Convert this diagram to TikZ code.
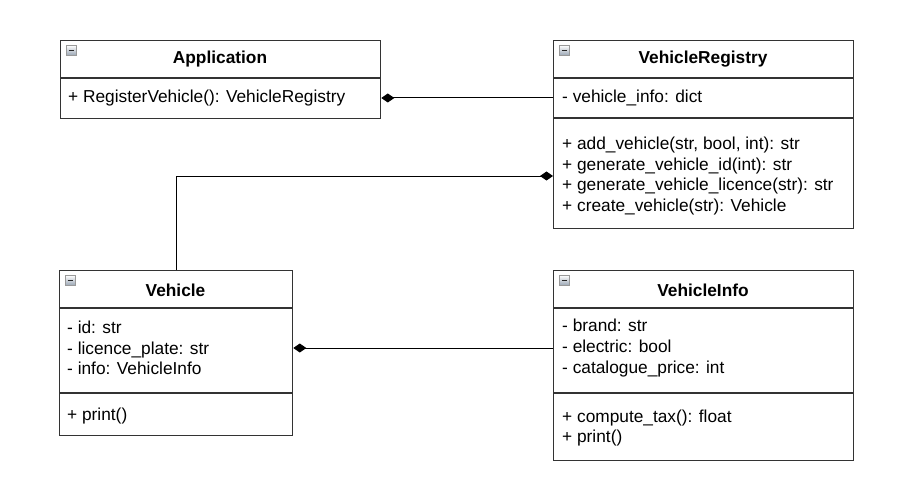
\documentclass[tikz,border=0pt]{standalone}
\usepackage{fontspec}
\setmainfont{Liberation Sans}
\usetikzlibrary{arrows.meta,calc}
\definecolor{boxgray}{HTML}{333333}
\definecolor{iconbot}{HTML}{9AA6B4}
\begin{document}
\begin{tikzpicture}[x=1pt,y=-1pt,
  classbox/.style={draw=boxgray, line width=1.3pt, fill=white, anchor=north west, inner sep=0pt},
  title/.style={font=\fontsize{17.3}{20.7}\selectfont\bfseries, inner sep=0pt},
  member/.style={font=\fontsize{17.3}{20.7}\selectfont, align=left, anchor=west, inner sep=0pt},
  divider/.style={draw=boxgray, line width=1.3pt},
  comp/.style={draw=black, line width=1pt, -{Diamond[length=13pt,width=9pt]}},
  icon/.style={anchor=north west, minimum size=10pt, inner sep=0pt, draw=gray!80, line width=0.6pt,
    top color=white, bottom color=iconbot,
    path picture={\draw[line width=1.4pt, black!85] ([xshift=2.2pt]path picture bounding box.west) -- ([xshift=-2.2pt]path picture bounding box.east);}},
]
\useasboundingbox (0,0) rectangle (901,497);

% Application
\node[classbox, minimum width=320pt, minimum height=78pt] (app) at (60,40) {};
\draw[divider] (60,78) -- (380,78);
\node[icon] (appicon) at (66,45) {};
\node[title] (apptitle) at (220,59) {Application};
\node[member] (appattr) at (68,98) {+ RegisterVehicle(): VehicleRegistry};

% VehicleRegistry
\node[classbox, minimum width=300pt, minimum height=188pt] (vreg) at (553,40) {};
\draw[divider] (553,78) -- (853,78);
\draw[divider] (553,118) -- (853,118);
\node[icon] (vregicon) at (559,45) {};
\node[title] (vregtitle) at (703,59) {VehicleRegistry};
\node[member] (vregattr) at (562,98) {- vehicle\_info: dict};
\node[member] (vregm) at (562,176) {+ add\_vehicle(str, bool, int): str\\+ generate\_vehicle\_id(int): str\\+ generate\_vehicle\_licence(str): str\\+ create\_vehicle(str): Vehicle};

% Vehicle
\node[classbox, minimum width=233pt, minimum height=165pt] (veh) at (59,270) {};
\draw[divider] (59,308) -- (292,308);
\draw[divider] (59,393) -- (292,393);
\node[icon] (vehicon) at (65,275) {};
\node[title] (vehtitle) at (175.5,290) {Vehicle};
\node[member] (vehattr) at (67,348) {- id: str\\- licence\_plate: str\\- info: VehicleInfo};
\node[member] (vehm) at (67,416) {+ print()};

% VehicleInfo
\node[classbox, minimum width=300pt, minimum height=190pt] (vinfo) at (553,270) {};
\draw[divider] (553,308) -- (853,308);
\draw[divider] (553,393) -- (853,393);
\node[icon] (vinfoicon) at (559,275) {};
\node[title] (vinfotitle) at (703,290) {VehicleInfo};
\node[member] (vinfoattr) at (562,348) {- brand: str\\- electric: bool\\- catalogue\_price: int};
\node[member] (vinfom) at (562,428) {+ compute\_tax(): float\\+ print()};

% connectors
\draw[comp] (vreg.west |- appattr) -- (app.east |- appattr);
\draw[comp] (veh.north) |- (vreg.west |- vregm);
\draw[comp] (vinfo.west |- vehattr) -- (veh.east |- vehattr);
\end{tikzpicture}
\end{document}
